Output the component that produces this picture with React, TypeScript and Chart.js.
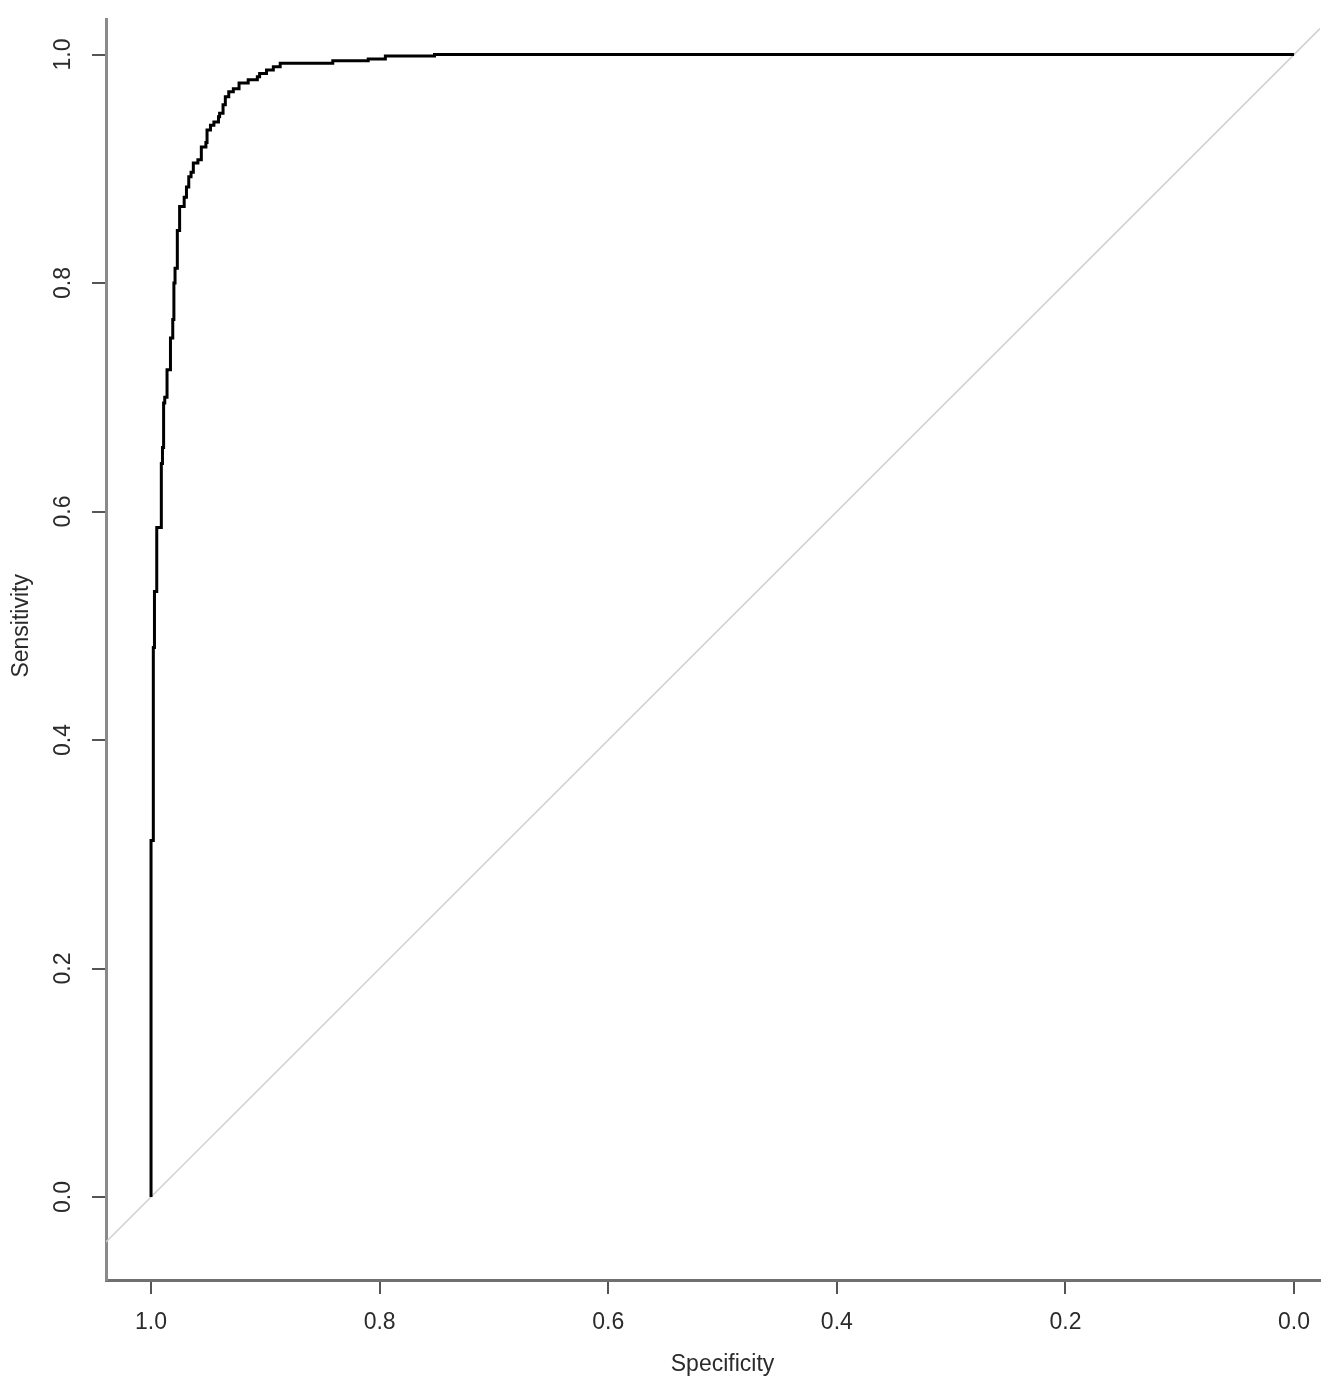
import React, { useEffect, useRef } from "react";
import { Chart, registerables } from "chart.js";

Chart.register(...registerables);

// ROC curve corner points (specificity on x, sensitivity on y)
const specificity = [
  1.0, 1.0, 0.998, 0.998, 0.997, 0.997, 0.995, 0.995, 0.991, 0.991,
  0.990, 0.990, 0.989, 0.989, 0.988, 0.988, 0.986, 0.986, 0.983, 0.983,
  0.981, 0.981, 0.980, 0.980, 0.979, 0.979, 0.977, 0.977, 0.975, 0.975,
  0.971, 0.971, 0.969, 0.969, 0.967, 0.967, 0.965, 0.965, 0.963, 0.963,
  0.959, 0.959, 0.956, 0.956, 0.952, 0.952, 0.951, 0.951, 0.948, 0.948,
  0.945, 0.945, 0.941, 0.941, 0.940, 0.940, 0.937, 0.937, 0.935, 0.935,
  0.932, 0.932, 0.928, 0.928, 0.923, 0.923, 0.915, 0.915, 0.907, 0.907,
  0.905, 0.905, 0.899, 0.899, 0.893, 0.893, 0.887, 0.887, 0.841, 0.841,
  0.810, 0.810, 0.795, 0.795, 0.752, 0.752, 0.0,
];
const sensitivity = [
  0.0, 0.312, 0.312, 0.481, 0.481, 0.530, 0.530, 0.586, 0.586, 0.642,
  0.642, 0.656, 0.656, 0.695, 0.695, 0.700, 0.700, 0.724, 0.724, 0.752,
  0.752, 0.768, 0.768, 0.800, 0.800, 0.813, 0.813, 0.846, 0.846, 0.867,
  0.867, 0.875, 0.875, 0.884, 0.884, 0.893, 0.893, 0.897, 0.897, 0.905,
  0.905, 0.908, 0.908, 0.919, 0.919, 0.923, 0.923, 0.934, 0.934, 0.938,
  0.938, 0.941, 0.941, 0.9456, 0.9456, 0.9485, 0.9485, 0.956, 0.956, 0.963,
  0.963, 0.9674, 0.9674, 0.970, 0.970, 0.975, 0.975, 0.978, 0.978, 0.9806,
  0.9806, 0.9835, 0.9835, 0.9864, 0.9864, 0.9893, 0.9893, 0.9923, 0.9923, 0.9946,
  0.9946, 0.996, 0.996, 0.9987, 0.9987, 1.0, 1.0,
];

// Identity (chance) line endpoints
const diagSpecificity = [1.0394, -0.0227];
const diagSensitivity = [-0.0394, 1.0227];

const xTickValues = [1.0, 0.8, 0.6, 0.4, 0.2, 0.0];
const xTickLabels = ["1.0", "0.8", "0.6", "0.4", "0.2", "0.0"];
const yTickValues = [0.0, 0.2, 0.4, 0.6, 0.8, 1.0];
const yTickLabels = ["0.0", "0.2", "0.4", "0.6", "0.8", "1.0"];

const xTitle = "Specificity";
const yTitle = "Sensitivity";

const FONT = '23px "Liberation Sans", Arial, sans-serif';
const TEXT_COLOR = "#2b2b2b";

export default function App() {
  const canvasRef = useRef<HTMLCanvasElement | null>(null);

  useEffect(() => {
    const canvas = canvasRef.current;
    if (!canvas) return;

    const labelsPlugin = {
      id: "rLabels",
      afterDraw(chart: any) {
        const ctx = chart.ctx as CanvasRenderingContext2D;
        const xs = chart.scales.x;
        const ys = chart.scales.y;
        const area = chart.chartArea;
        ctx.save();
        ctx.font = FONT;
        ctx.fillStyle = TEXT_COLOR;
        ctx.textAlign = "center";
        ctx.textBaseline = "middle";
        xTickValues.forEach((v, i) => {
          ctx.fillText(xTickLabels[i], xs.getPixelForValue(v), area.bottom + 43);
        });
        yTickValues.forEach((v, i) => {
          ctx.save();
          ctx.translate(area.left - 42, ys.getPixelForValue(v));
          ctx.rotate(-Math.PI / 2);
          ctx.fillText(yTickLabels[i], 0, 0);
          ctx.restore();
        });
        const xMid =
          (xs.getPixelForValue(xTickValues[0]) +
            xs.getPixelForValue(xTickValues[xTickValues.length - 1])) / 2;
        ctx.fillText(xTitle, xMid, area.bottom + 85);
        const yMid =
          (ys.getPixelForValue(yTickValues[0]) +
            ys.getPixelForValue(yTickValues[yTickValues.length - 1])) / 2;
        ctx.save();
        ctx.translate(area.left - 84, yMid);
        ctx.rotate(-Math.PI / 2);
        ctx.fillText(yTitle, 0, 0);
        ctx.restore();
        ctx.restore();
      },
    };

    const chart = new Chart(canvas, {
      type: "scatter",
      data: {
        datasets: [
          {
            label: "ROC",
            data: specificity.map((s, i) => ({ x: s, y: sensitivity[i] })),
            showLine: true,
            borderColor: "#000000",
            borderWidth: 3,
            pointRadius: 0,
            fill: false,
            tension: 0,
          },
          {
            label: "Chance",
            data: diagSpecificity.map((s, i) => ({ x: s, y: diagSensitivity[i] })),
            showLine: true,
            borderColor: "#d0d0d0",
            borderWidth: 1.5,
            pointRadius: 0,
            fill: false,
          },
        ],
      },
      options: {
        animation: false,
        responsive: false,
        maintainAspectRatio: false,
        layout: { padding: { top: 19, right: 21, left: 0, bottom: 0 } },
        plugins: {
          legend: { display: false },
          tooltip: { enabled: false },
          title: { display: false },
        },
        scales: {
          x: {
            type: "linear",
            reverse: true,
            min: -0.0227,
            max: 1.0394,
            afterBuildTicks: (s: any) => {
              s.ticks = xTickValues.map((v) => ({ value: v }));
            },
            afterFit: (s: any) => {
              s.height = 115;
            },
            ticks: { display: false },
            grid: {
              drawOnChartArea: false,
              drawTicks: true,
              tickLength: 14,
              color: "#555555",
              lineWidth: 2,
            },
            border: { display: true, color: "#707070", width: 3 },
          },
          y: {
            type: "linear",
            min: -0.0726,
            max: 1.0311,
            afterBuildTicks: (s: any) => {
              s.ticks = yTickValues.map((v) => ({ value: v }));
            },
            afterFit: (s: any) => {
              s.width = 106;
            },
            ticks: { display: false },
            grid: {
              drawOnChartArea: false,
              drawTicks: true,
              tickLength: 14,
              color: "#555555",
              lineWidth: 2,
            },
            border: { display: true, color: "#8a8a8a", width: 3 },
          },
        },
      },
      plugins: [labelsPlugin],
    } as any);

    return () => {
      chart.destroy();
    };
  }, []);

  return (
    <div style={{ position: "absolute", left: 0, top: 0, width: 1341, height: 1395, background: "#ffffff" }}>
      <canvas ref={canvasRef} width={1341} height={1395} style={{ width: 1341, height: 1395, display: "block" }} />
    </div>
  );
}
